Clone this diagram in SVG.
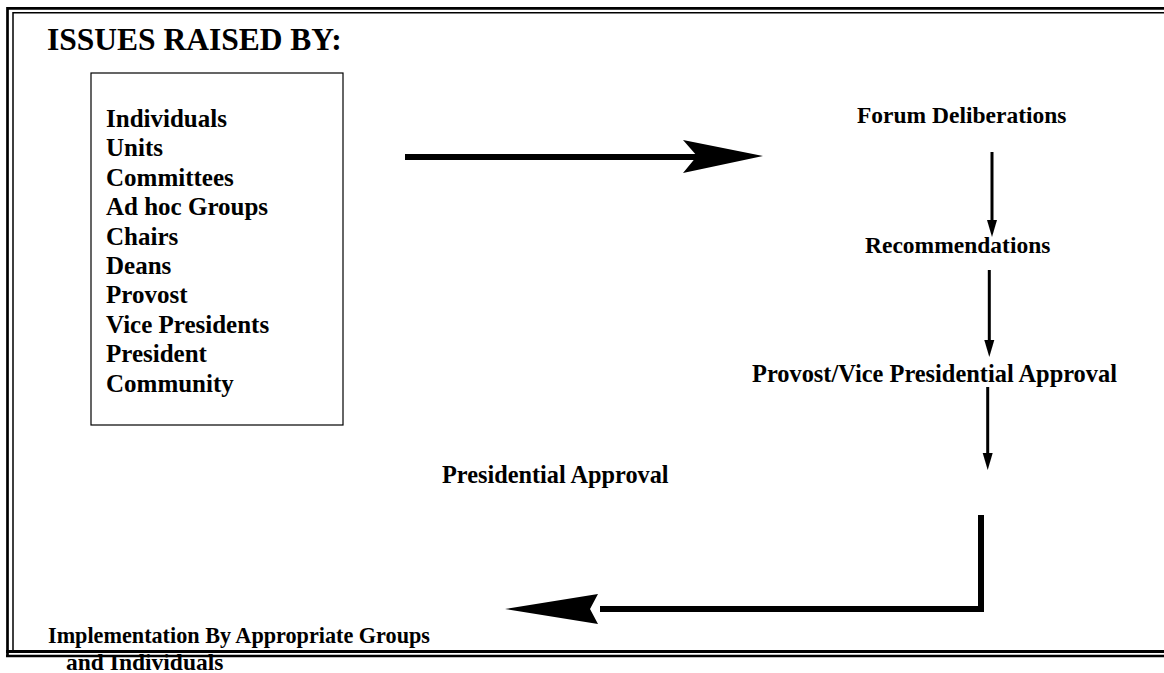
<svg xmlns="http://www.w3.org/2000/svg" width="1164" height="673" viewBox="0 0 1164 673">
<style>
text{font-family:"Liberation Serif","Times New Roman",serif;font-weight:bold;fill:#000}
.lst{font-size:25px}
.lbl{font-size:23.5px}
.thin{stroke:#000;stroke-width:3;fill:none}
.thick{stroke:#000;stroke-width:6;fill:none}
</style>
<rect width="1164" height="673" fill="#fff"/>
<g id="border" fill="none" stroke="#000">
<path d="M7.5 657V8.3H1164" stroke-width="2.7"/>
<path d="M13 651V12.8H1164" stroke-width="1.5"/>
<path d="M6 651.5H1164" stroke-width="3"/>
<path d="M6 656H1164" stroke-width="2.5"/>
</g>
<g id="title"><text x="47" y="50" style="font-size:31.5px">ISSUES RAISED BY:</text></g>
<g id="sources">
<rect x="91" y="73" width="252" height="352" fill="none" stroke="#000" stroke-width="1.2"/>
<text class="lst" x="106" y="127">Individuals</text>
<text class="lst" x="106" y="156.4">Units</text>
<text class="lst" x="106" y="185.8">Committees</text>
<text class="lst" x="106" y="215.2">Ad hoc Groups</text>
<text class="lst" x="106" y="244.6">Chairs</text>
<text class="lst" x="106" y="274">Deans</text>
<text class="lst" x="106" y="303.4">Provost</text>
<text class="lst" x="106" y="332.8">Vice Presidents</text>
<text class="lst" x="106" y="362.2">President</text>
<text class="lst" x="106" y="391.6">Community</text>
</g>
<g id="forum"><text class="lbl" x="857" y="123">Forum Deliberations</text></g>
<g id="recommendations"><text class="lbl" x="865" y="253">Recommendations</text></g>
<g id="provost"><text class="lbl" x="752" y="382" style="font-size:24.4px">Provost/Vice Presidential Approval</text></g>
<g id="presidential"><text class="lbl" x="442" y="483" style="font-size:24.3px">Presidential Approval</text></g>
<g id="implementation">
<text class="lbl" x="48" y="643" style="font-size:22.2px">Implementation By Appropriate Groups</text>
<text class="lbl" x="66" y="670">and Individuals</text>
</g>
<g id="connectors">
<path class="thick" d="M405 157H697"/>
<polygon points="763,156 683,140 697,156 683,173" fill="#000"/>
<path class="thin" d="M992 152V222"/>
<polygon points="987,220 997,220 992,237" fill="#000"/>
<path class="thin" d="M989.3 270V342"/>
<polygon points="984.3,340 994.3,340 989.3,357" fill="#000"/>
<path class="thin" d="M987.7 387V455"/>
<polygon points="982.7,453 992.7,453 987.7,470" fill="#000"/>
<path class="thick" d="M981 515V609H600"/>
<polygon points="505,609 598,594 590,609 598,624" fill="#000"/>
</g>
</svg>
